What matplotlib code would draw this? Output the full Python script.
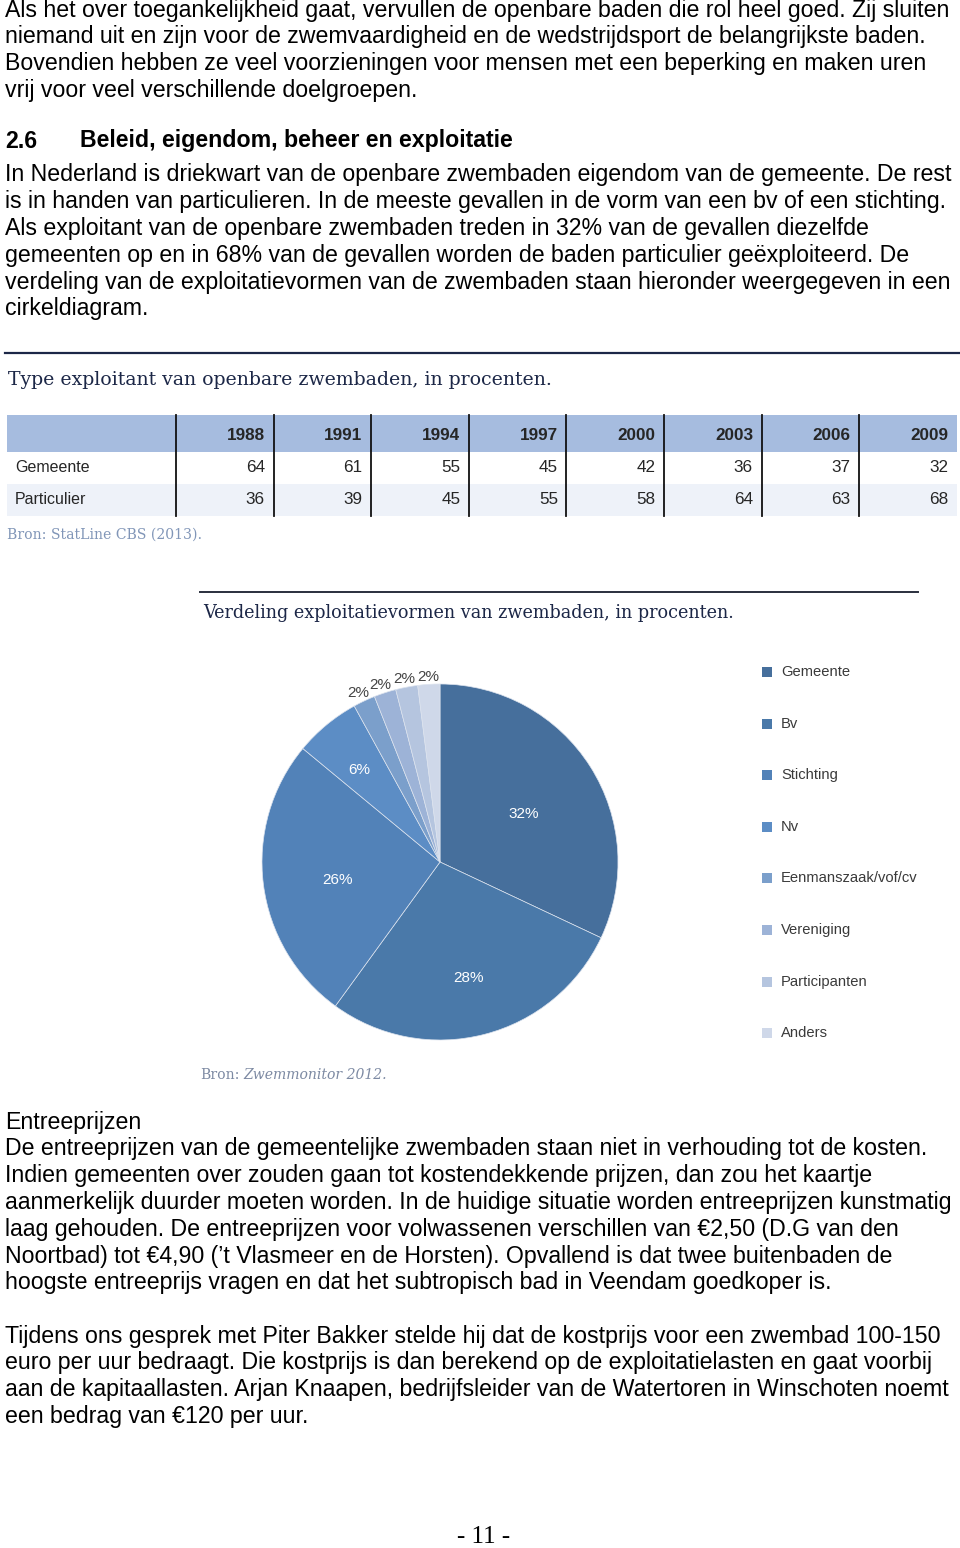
import numpy as np
import matplotlib.pyplot as plt
from matplotlib.patches import Rectangle

# --- data ---
years = ['1988', '1991', '1994', '1997', '2000', '2003', '2006', '2009']
gemeente = [64, 61, 55, 45, 42, 36, 37, 32]
particulier = [36, 39, 45, 55, 58, 64, 63, 68]

pie_labels = ['Gemeente', 'Bv', 'Stichting', 'Nv', 'Eenmanszaak/vof/cv',
              'Vereniging', 'Participanten', 'Anders']
pie_values = [32, 28, 26, 6, 2, 2, 2, 2]
pie_colors = ['#466f9c', '#4a79a9', '#5282b8', '#5c8dc5', '#7b9fcb',
              '#9db3d7', '#b5c5df', '#cfd8e9']

para1 = ["Als het over toegankelijkheid gaat, vervullen de openbare baden die rol heel goed. Zij sluiten",
         "niemand uit en zijn voor de zwemvaardigheid en de wedstrijdsport de belangrijkste baden.",
         "Bovendien hebben ze veel voorzieningen voor mensen met een beperking en maken uren",
         "vrij voor veel verschillende doelgroepen."]
para2 = ["In Nederland is driekwart van de openbare zwembaden eigendom van de gemeente. De rest",
         "is in handen van particulieren. In de meeste gevallen in de vorm van een bv of een stichting.",
         "Als exploitant van de openbare zwembaden treden in 32% van de gevallen diezelfde",
         "gemeenten op en in 68% van de gevallen worden de baden particulier geëxploiteerd. De",
         "verdeling van de exploitatievormen van de zwembaden staan hieronder weergegeven in een",
         "cirkeldiagram."]
para3 = ["Entreeprijzen",
         "De entreeprijzen van de gemeentelijke zwembaden staan niet in verhouding tot de kosten.",
         "Indien gemeenten over zouden gaan tot kostendekkende prijzen, dan zou het kaartje",
         "aanmerkelijk duurder moeten worden. In de huidige situatie worden entreeprijzen kunstmatig",
         "laag gehouden. De entreeprijzen voor volwassenen verschillen van €2,50 (D.G van den",
         "Noortbad) tot €4,90 (’t Vlasmeer en de Horsten). Opvallend is dat twee buitenbaden de",
         "hoogste entreeprijs vragen en dat het subtropisch bad in Veendam goedkoper is."]
para4 = ["Tijdens ons gesprek met Piter Bakker stelde hij dat de kostprijs voor een zwembad 100-150",
         "euro per uur bedraagt. Die kostprijs is dan berekend op de exploitatielasten en gaat voorbij",
         "aan de kapitaallasten. Arjan Knaapen, bedrijfsleider van de Watertoren in Winschoten noemt",
         "een bedrag van €120 per uur."]

body = dict(family='Liberation Sans', fontsize=16.7, color='black', va='center')
sans = 'Liberation Sans'
serif = 'DejaVu Serif'
navy = '#1c2747'
ink = '#262626'

fig = plt.figure(figsize=(9.6, 15.48), dpi=100)
ax = fig.add_axes([0, 0, 1, 1])
ax.set_xlim(0, 960)
ax.set_ylim(1548, 0)
ax.axis('off')

LH = 26.8
for i, s in enumerate(para1):
    ax.text(5, 10 + i * LH, s, **body)
ax.text(5, 141, '2.6', fontweight='bold', **body)
ax.text(80, 141, 'Beleid, eigendom, beheer en exploitatie', fontweight='bold', **body)
for i, s in enumerate(para2):
    ax.text(5, 175 + i * LH, s, **body)
for i, s in enumerate(para3):
    ax.text(5, 1122 + i * LH, s, **body)
for i, s in enumerate(para4):
    ax.text(5, 1336 + i * LH, s, **body)
ax.text(484, 1537, '- 11 -', family='Liberation Serif', fontsize=18, va='center', ha='center')

# --- table ---
ax.plot([5, 960], [353, 353], color=navy, lw=1.6)
ax.text(8, 380, 'Type exploitant van openbare zwembaden, in procenten.',
        family=serif, fontsize=13.6, color=navy, va='center')
ax.add_patch(Rectangle((7, 415), 950, 37, color='#a6bcdf', lw=0))
ax.add_patch(Rectangle((7, 484), 950, 32, color='#eef2f9', lw=0))
col_x = [176 + 97.6 * i for i in range(8)]
for cx in col_x:
    ax.plot([cx, cx], [415, 516], color='#111111', lw=1.3)
for i, y in enumerate(years):
    xr = col_x[i] + 89
    ax.text(xr, 435, y, family=sans, fontsize=12.3, fontweight='bold', color=ink,
            ha='right', va='center')
    ax.text(xr, 468, str(gemeente[i]), family=sans, fontsize=12.3, color=ink,
            ha='right', va='center')
    ax.text(xr, 500, str(particulier[i]), family=sans, fontsize=12.3, color=ink,
            ha='right', va='center')
ax.text(15, 468, 'Gemeente', family=sans, fontsize=11.5, color=ink, va='center')
ax.text(15, 500, 'Particulier', family=sans, fontsize=11.5, color=ink, va='center')
ax.text(7, 535, 'Bron: StatLine CBS (2013).', family=serif, fontsize=10.1,
        color='#8196b8', va='center')

# --- pie chart ---
ax.plot([200, 918], [592, 592], color='#2a2f3d', lw=1.4)
ax.text(203, 613, 'Verdeling exploitatievormen van zwembaden, in procenten.',
        family=serif, fontsize=12.7, color=navy, va='center')

cx, cy, r = 440, 862, 178
pax = fig.add_axes([(cx - r) / 960, 1 - (cy + r) / 1548, 2 * r / 960, 2 * r / 1548])
wedges, _ = pax.pie(pie_values, colors=pie_colors, startangle=90, counterclock=False,
                    wedgeprops=dict(edgecolor='#dce3ee', linewidth=0.5))
pax.set_xlim(-1, 1)
pax.set_ylim(-1, 1)
pax.axis('off')
label_dist = [0.56, 0.64, 0.58, 0.71, 1.08, 1.08, 1.08, 1.07]
for w, v, d in zip(wedges, pie_values, label_dist):
    ang = np.deg2rad((w.theta1 + w.theta2) / 2)
    c = '#444444' if d > 1 else 'white'
    pax.text(d * np.cos(ang), d * np.sin(ang) - 0.03, f'{v}%', family=sans, fontsize=11,
             color=c, ha='center', va='center')

for i, lab in enumerate(pie_labels):
    y = 672 + i * 51.6
    ax.add_patch(Rectangle((762, y - 5), 10, 10, color=pie_colors[i], lw=0))
    ax.text(781, y, lab, family=sans, fontsize=10.6, color='#3a3a3a', va='center')

src = ax.text(200, 1075, 'Bron:', family=serif, fontsize=10.1, color='#7d8aa3', va='center')
fig.canvas.draw()
x_end = ax.transData.inverted().transform(
    (src.get_window_extent().x1, 0))[0]
ax.text(x_end + 4, 1075, 'Zwemmonitor 2012.', family=serif, fontsize=10.1, style='italic',
        color='#7d8aa3', va='center')

fig.savefig('out.png', dpi=100)
